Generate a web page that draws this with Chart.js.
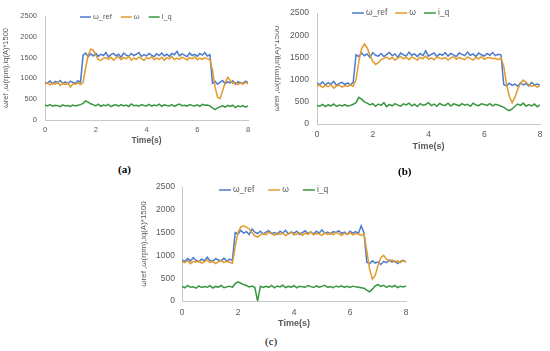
<!DOCTYPE html>
<html>
<head>
<meta charset="utf-8">
<script src="https://cdn.jsdelivr.net/npm/chart.js@4.4.1/dist/chart.umd.min.js"></script>
<style>
  body { margin:0; background:#fff; width:550px; height:351px; position:relative; overflow:hidden; }
  canvas { position:absolute; }
  .caja { position:absolute; overflow:hidden; }
  .etq { position:absolute; font:bold 11px "Liberation Serif", serif; color:#000; }
</style>
</head>
<body>
<canvas id="gA" width="262" height="150" style="left:0;top:0"></canvas>
<div class="caja" style="left:275px;top:0;width:275px;height:160px">
  <canvas id="gB" width="281" height="156" style="left:-6px;top:0"></canvas>
</div>
<canvas id="gC" width="279" height="162" style="left:137px;top:172px"></canvas>
<div class="etq" style="left:118px;top:163px">(a)</div>
<div class="etq" style="left:398px;top:165px">(b)</div>
<div class="etq" style="left:265px;top:335px;font-weight:normal">(c)</div>

<script>
/* ==============================
     DATOS
============================== */
const tiempos = [0,0.1,0.2,0.3,0.4,0.5,0.6,0.7,0.8,0.9,1,1.1,1.2,1.3,1.4,1.5,1.6,1.7,1.8,1.9,
  2,2.1,2.2,2.3,2.4,2.5,2.6,2.7,2.8,2.9,3,3.1,3.2,3.3,3.4,3.5,3.6,3.7,3.8,3.9,
  4,4.1,4.2,4.3,4.4,4.5,4.6,4.7,4.8,4.9,5,5.1,5.2,5.3,5.4,5.5,5.6,5.7,5.8,5.9,
  6,6.1,6.2,6.3,6.4,6.5,6.6,6.7,6.8,6.9,7,7.1,7.2,7.3,7.4,7.5,7.6,7.7,7.8,7.9,8];
const ticksX = [0, 2, 4, 6, 8];
const ticksY = [0, 500, 1000, 1500, 2000, 2500];
const etiquetas = ['ω_ref', 'ω', 'i_q'];

// (a)
const refA = [910,880,940,870,925,895,950,880,915,870,935,900,885,945,905,
  1560,1610,1520,1590,1540,1600,1530,1580,1550,1620,1520,1570,1600,1540,1580,1510,1610,1560,1530,1600,
  1550,1580,1620,1530,1570,1540,1600,1560,1520,1590,1550,1610,1540,1580,1530,1600,1570,1650,1540,1590,
  1560,1520,1610,1550,1580,1530,1600,1560,1620,1540,1570,
  880,930,860,910,950,870,920,890,940,860,915,900,880,935,895];
const wA = [870,900,840,890,860,910,830,880,850,900,790,870,860,895,850,
  900,1250,1550,1700,1680,1560,1450,1430,1480,
  1500,1460,1510,1440,1490,1520,1450,1500,1470,1530,1440,1490,1460,1510,1480,1430,1500,1470,1520,1450,
  1490,1460,1510,1440,1500,1470,1530,1450,1490,1460,1510,1480,1440,1500,1470,1520,1450,1490,1460,1500,1470,1450,
  1200,800,550,520,700,900,1030,950,880,900,850,890,860,910,870];
const iqA = [360,340,370,330,355,345,320,365,335,350,325,360,340,355,370,
  400,460,430,390,370,
  340,380,330,360,345,375,320,355,365,335,370,340,360,325,385,345,355,330,370,350,340,375,335,360,345,
  380,330,365,350,340,370,325,360,385,345,355,335,370,350,340,365,330,375,355,360,340,
  290,250,290,320,
  340,310,350,325,355,300,340,320,345,310,335];

// (b)
const refB = [920,890,950,880,930,900,960,870,915,940,890,925,880,945,
  1560,1520,1600,1540,1580,1500,1610,1550,1530,1590,1520,1570,1610,1540,1580,1500,1600,1560,1530,1620,
  1550,1580,1520,1590,1540,1650,1530,1570,1600,1520,1580,1550,1610,1530,1590,1560,1520,1600,1570,1540,
  1620,1550,1580,1520,1600,1560,1530,1590,1550,1610,1540,1570,1560,
  890,860,920,870,900,850,930,880,910,860,940,880,900,870];
const wB = [850,880,820,870,840,890,810,860,875,830,865,845,880,850,
  1000,1400,1700,1800,1720,1550,1420,1340,1380,1450,
  1480,1510,1460,1500,1440,1490,1520,1470,1500,1450,1510,1480,1440,1500,1470,1530,1460,1490,1450,1510,
  1480,1470,1500,1440,1490,1520,1460,1500,1470,1450,1510,1480,1440,1500,1470,1520,1460,1490,1500,1470,
  1480,1450,1490,
  1300,900,620,480,600,780,920,990,940,880,850,870,830,860];
const iqB = [420,400,440,390,430,410,450,395,425,405,435,400,420,445,
  480,600,560,500,470,
  430,460,400,450,420,480,390,440,410,460,425,400,455,430,470,410,445,395,460,425,440,480,415,450,400,
  465,430,420,470,405,455,435,410,460,425,445,400,470,430,415,455,440,420,460,410,445,430,400,380,
  330,300,340,400,
  450,420,470,400,440,410,450,390,430];

// (c)
const refC = [900,870,930,880,950,890,860,920,880,960,890,870,930,900,880,940,870,920,890,
  1500,1470,1550,1490,1520,1460,1580,1510,1480,1530,1470,1510,1540,1480,1500,1460,1530,1490,1550,1470,
  1510,1490,1530,1460,1500,1540,1480,1510,1470,1530,1490,1560,1480,1510,1470,1520,1500,1540,1480,1510,
  1460,1530,1490,1520,1480,1650,1500,
  850,820,880,830,860,800,870,840,900,850,880,820,870,890,850];
const wC = [860,840,890,820,870,850,880,830,860,900,840,870,820,860,890,840,870,850,830,
  1200,1500,1620,1650,1620,1580,1500,1430,1400,1450,
  1480,1450,1510,1470,1440,1500,1460,1490,1430,1480,1510,1450,1470,1500,1440,1490,1460,1520,1450,1480,
  1470,1440,1500,1460,1490,1450,1510,1470,1440,1490,1460,1500,1450,1480,1470,1440,1480,
  1100,700,480,560,780,950,1000,920,870,900,850,880,840,890,860];
const iqC = [320,290,340,300,310,280,330,295,315,300,335,285,320,305,340,290,310,325,300,
  380,420,390,360,340,
  310,330,300,0,320,295,
  320,300,340,290,330,310,345,295,320,305,335,290,325,310,300,340,315,295,330,305,
  320,345,300,315,290,330,310,335,300,320,295,325,310,300,290,280,
  240,200,260,330,
  360,320,345,300,335,310,340,295,325,310,330];

/* ==============================
     ESTILO
============================== */
const AZUL = '#4a7bd0';
const NARANJA = '#e39a2c';
const VERDE = '#38963f';
const GRIS = '#595959';
const FUENTE = '"Liberation Sans", Arial, sans-serif';

/* ==============================
     LEYENDA MANUAL (dentro del área)
============================== */
const leyenda = {
  id: 'leyenda',
  afterDraw(chart, args, opts) {
    const { ctx } = chart;
    let x = opts.x;
    ctx.save();
    ctx.font = `${opts.fs}px ${FUENTE}`;
    ctx.textBaseline = 'middle';
    chart.data.datasets.forEach(ds => {
      ctx.beginPath();
      ctx.strokeStyle = ds.borderColor;
      ctx.lineWidth = 1.5;
      ctx.moveTo(x, opts.y);
      ctx.lineTo(x + opts.largo, opts.y);
      ctx.stroke();
      x += opts.largo + 2;
      ctx.fillStyle = GRIS;
      ctx.fillText(ds.label, x, opts.y);
      x += ctx.measureText(ds.label).width + opts.sep;
    });
    ctx.restore();
  }
};

function crearGrafica(id, ref, w, iq, o) {
  const puntos = arr => tiempos.map((t, i) => ({ x: t, y: arr[i] }));
  return new Chart(document.getElementById(id), {
    type: 'line',
    data: { datasets: [
      { label: etiquetas[0], data: puntos(ref), borderColor: AZUL, order: 3 },
      { label: etiquetas[1], data: puntos(w), borderColor: NARANJA, order: 2 },
      { label: etiquetas[2], data: puntos(iq), borderColor: VERDE, order: 1 }
    ]},
    options: {
      responsive: false,
      animation: false,
      elements: { point: { radius: 0 }, line: { borderWidth: 1.5, tension: 0 } },
      layout: { padding: { top: o.arriba, right: o.derecha, left: 0, bottom: 0 } },
      plugins: {
        legend: { display: false },
        tooltip: { enabled: false },
        leyenda: o.ley
      },
      scales: {
        x: {
          type: 'linear', min: 0, max: 8,
          afterBuildTicks: s => { s.ticks = ticksX.map(v => ({ value: v })); },
          ticks: { color: GRIS, padding: o.padX, font: { family: FUENTE, size: o.fs },
                   callback: v => String(v) },
          grid: { display: false, drawTicks: false },
          border: { color: '#c8c8c8' },
          title: { display: true, text: 'Time(s)', color: GRIS,
                   font: { family: FUENTE, size: o.fsT, weight: 'bold' },
                   padding: { top: 0, bottom: o.padTX } },
          afterFit: s => { s.height = o.altoX; }
        },
        y: {
          min: 0, max: 2500,
          afterBuildTicks: s => { s.ticks = ticksY.map(v => ({ value: v })); },
          ticks: { color: GRIS, padding: o.padY, font: { family: FUENTE, size: o.fs },
                   callback: v => String(v) },
          grid: { display: false, drawTicks: false },
          border: { color: '#c8c8c8' },
          title: { display: true, text: 'ωref ,ω(rpm),iq(A)*1500', color: GRIS,
                   font: { family: FUENTE, size: o.fsY },
                   padding: { top: o.padTY, bottom: 0 } },
          afterFit: s => { s.width = o.anchoY; }
        }
      }
    },
    plugins: [leyenda]
  });
}

crearGrafica('gA', refA, wA, iqA, {
  arriba: 16, derecha: 14, altoX: 30, anchoY: 45,
  fs: 7.5, fsT: 8.5, fsY: 7.5, padX: 5, padY: 8, padTX: 4, padTY: 1.5,
  ley: { x: 80, y: 17, fs: 7.5, largo: 11, sep: 9 }
});
crearGrafica('gB', refB, wB, iqB, {
  arriba: 11, derecha: 10, altoX: 32, anchoY: 48,
  fs: 8.5, fsT: 9, fsY: 8, padX: 6, padY: 8, padTX: 4, padTY: 3,
  ley: { x: 83, y: 13, fs: 8.5, largo: 12, sep: 8 }
});
crearGrafica('gC', refC, wC, iqC, {
  arriba: 15, derecha: 10, altoX: 33, anchoY: 45,
  fs: 8.5, fsT: 9, fsY: 8, padX: 7, padY: 7, padTX: 5, padTY: 1.5,
  ley: { x: 82, y: 18, fs: 8.5, largo: 12, sep: 14 }
});
</script>
</body>
</html>
